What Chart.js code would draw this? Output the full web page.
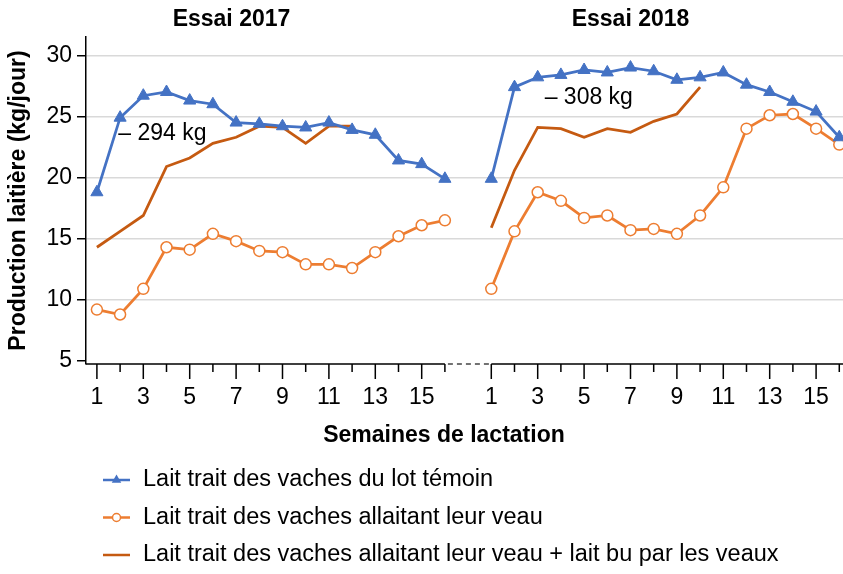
<!DOCTYPE html>
<html lang="fr">
<head>
<meta charset="utf-8">
<title>Production laitière</title>
<script src="https://cdn.jsdelivr.net/npm/chart.js@4.4.1/dist/chart.umd.min.js"></script>
<style>
  html, body { margin: 0; padding: 0; background: #fff; overflow: hidden; }
  #wrap { width: 843px; height: 574px; }
</style>
</head>
<body>
<div id="wrap"><canvas id="myChart" width="843" height="574"></canvas></div>
<script>
// semaines de lactation (same for both trials)
const weeks = [1, 2, 3, 4, 5, 6, 7, 8, 9, 10, 11, 12, 13, 14, 15, 16];
const yTicks = [5, 10, 15, 20, 25, 30];

// kg/jour
const temoin2017 = [18.8, 24.9, 26.7, 27.0, 26.3, 26.0, 24.5, 24.4, 24.2, 24.1, 24.5, 23.9, 23.5, 21.4, 21.1, 19.9];
const temoin2018 = [19.9, 27.4, 28.2, 28.4, 28.8, 28.6, 29.0, 28.7, 28.0, 28.2, 28.6, 27.6, 27.0, 26.2, 25.4, 23.3];
const allaitant2017 = [9.2, 8.8, 10.9, 14.3, 14.1, 15.4, 14.8, 14.0, 13.9, 12.9, 12.9, 12.6, 13.9, 15.2, 16.1, 16.5];
const allaitant2018 = [10.9, 15.6, 18.8, 18.1, 16.7, 16.9, 15.7, 15.8, 15.4, 16.9, 19.2, 24.0, 25.1, 25.2, 24.0, 22.7];
const total2017 = [14.3, 15.6, 16.9, 20.9, 21.6, 22.8, 23.3, 24.2, 24.1, 22.8, 24.2, 24.2];
const total2018 = [15.9, 20.6, 24.1, 24.0, 23.3, 24.0, 23.7, 24.6, 25.2, 27.4];

const panelTitles = ['Essai 2017', 'Essai 2018'];
const gapTexts = ['\u2013 294 kg', '\u2013 308 kg'];

const BLUE = '#4472C4';
const ORANGE = '#ED7D31';
const DARK_ORANGE = '#C55A11';
const GRID = '#d9d9d9';

// 2018 weeks sit after an empty slot on the same x axis
const OFFSET_2018 = 17;

function toPoints(a, b) {
    return a.map((y, i) => ({x: weeks[i], y: y}))
        .concat([{x: OFFSET_2018, y: null}])
        .concat(b.map((y, i) => ({x: weeks[i] + OFFSET_2018, y: y})));
}

Chart.defaults.font.family = "Arial, 'Liberation Sans', sans-serif";
Chart.defaults.color = '#000';

// axis line with dashed break, tick marks, titles, notes and legend
const decor = {
    id: 'decor',
    afterDraw(chart) {
        const {ctx, chartArea} = chart;
        const xs = chart.scales.x;
        const ys = chart.scales.y;
        const yb = chartArea.bottom;
        const xEnd17 = xs.getPixelForValue(weeks[weeks.length - 1]);
        const xStart18 = xs.getPixelForValue(weeks[0] + OFFSET_2018);
        ctx.save();

        ctx.strokeStyle = '#000';
        ctx.lineWidth = 1.5;
        ctx.beginPath();
        ctx.moveTo(chartArea.left, yb);
        ctx.lineTo(xEnd17, yb);
        ctx.moveTo(xStart18, yb);
        ctx.lineTo(chartArea.right, yb);
        ctx.stroke();
        ctx.strokeStyle = '#444';
        ctx.setLineDash([5, 4]);
        ctx.beginPath();
        ctx.moveTo(xEnd17 + 3, yb);
        ctx.lineTo(xStart18 - 2, yb);
        ctx.stroke();
        ctx.setLineDash([]);

        ctx.strokeStyle = '#000';
        ctx.beginPath();
        xs.ticks.forEach(t => {
            const w = t.value > OFFSET_2018 ? t.value - OFFSET_2018 : t.value;
            const px = xs.getPixelForValue(t.value);
            ctx.moveTo(px, yb);
            ctx.lineTo(px, yb + (w % 2 ? 15 : 8));
        });
        ctx.stroke();

        ctx.fillStyle = '#000';
        ctx.textBaseline = 'middle';
        ctx.textAlign = 'center';
        ctx.font = "bold 23px Arial, 'Liberation Sans', sans-serif";
        ctx.fillText(panelTitles[0], xs.getPixelForValue(6.8), 20);
        ctx.fillText(panelTitles[1], xs.getPixelForValue(24), 20);
        ctx.fillText('Semaines de lactation', xs.getPixelForValue(15.96), 436);

        ctx.textAlign = 'left';
        ctx.font = "23px Arial, 'Liberation Sans', sans-serif";
        ctx.fillText(gapTexts[0], xs.getPixelForValue(1.92), ys.getPixelForValue(23.6));
        ctx.fillText(gapTexts[1], xs.getPixelForValue(20.3), ys.getPixelForValue(26.5));

        // legend, one item per row
        ctx.font = "23.5px Arial, 'Liberation Sans', sans-serif";
        chart.data.datasets.forEach((ds, i) => {
            const cy = 480 + i * 37.5;
            const x0 = 103;
            const cx = x0 + 13.5;
            ctx.strokeStyle = ds.borderColor;
            ctx.lineWidth = 2.5;
            ctx.beginPath();
            ctx.moveTo(x0, cy);
            ctx.lineTo(x0 + 27, cy);
            ctx.stroke();
            if (ds.pointStyle === 'triangle') {
                const r = 5.5;
                ctx.fillStyle = ds.pointBackgroundColor;
                ctx.beginPath();
                ctx.moveTo(cx, cy - r);
                ctx.lineTo(cx + r * 0.866, cy + r / 2);
                ctx.lineTo(cx - r * 0.866, cy + r / 2);
                ctx.closePath();
                ctx.fill();
            } else if (ds.pointRadius > 0) {
                ctx.fillStyle = ds.pointBackgroundColor;
                ctx.lineWidth = 1.5;
                ctx.beginPath();
                ctx.arc(cx, cy, 4, 0, Math.PI * 2);
                ctx.fill();
                ctx.stroke();
            }
            ctx.fillStyle = '#000';
            ctx.fillText(ds.label, 143, cy);
        });
        ctx.restore();
    }
};

const data = {
    datasets: [
        {
            label: 'Lait trait des vaches du lot témoin',
            data: toPoints(temoin2017, temoin2018),
            borderColor: BLUE,
            backgroundColor: BLUE,
            pointBackgroundColor: BLUE,
            pointBorderColor: BLUE,
            pointStyle: 'triangle',
            pointRadius: 7,
            pointBorderWidth: 1,
            borderWidth: 2.75,
        },
        {
            label: 'Lait trait des vaches allaitant leur veau',
            data: toPoints(allaitant2017, allaitant2018),
            borderColor: ORANGE,
            backgroundColor: ORANGE,
            pointBackgroundColor: '#fff',
            pointBorderColor: ORANGE,
            pointStyle: 'circle',
            pointRadius: 5.5,
            pointBorderWidth: 1.5,
            borderWidth: 2.75,
        },
        {
            label: 'Lait trait des vaches allaitant leur veau + lait bu par les veaux',
            data: toPoints(total2017, total2018),
            borderColor: DARK_ORANGE,
            backgroundColor: DARK_ORANGE,
            pointRadius: 0,
            borderWidth: 2.75,
        },
    ]
};

const config = {
    type: 'line',
    data: data,
    options: {
        responsive: false,
        animation: false,
        events: [],
        spanGaps: false,
        layout: {
            autoPadding: false,
            padding: {top: 37, right: 0, bottom: 0, left: 0}
        },
        scales: {
            x: {
                type: 'linear',
                min: 0.53,
                max: 33.16,
                afterBuildTicks: s => {
                    s.ticks = weeks.map(w => ({value: w}))
                        .concat(weeks.map(w => ({value: w + OFFSET_2018})));
                },
                afterFit: s => {
                    s.height = 210;
                    s.paddingLeft = 0;
                    s.paddingRight = 0;
                },
                border: {display: false},
                grid: {
                    drawOnChartArea: false,
                    drawTicks: true,
                    tickLength: 15,
                    tickColor: 'rgba(0,0,0,0)',
                },
                ticks: {
                    autoSkip: false,
                    maxRotation: 0,
                    padding: 5,
                    color: '#000',
                    font: {size: 23},
                    callback: v => {
                        const w = v > OFFSET_2018 ? v - OFFSET_2018 : v;
                        return w % 2 ? String(w) : '';
                    }
                },
            },
            y: {
                min: 4.75,
                max: 31.5,
                afterBuildTicks: s => {
                    s.ticks = yTicks.map(v => ({value: v}));
                },
                afterFit: s => {
                    s.width = 86;
                    s.paddingTop = 0;
                    s.paddingBottom = 0;
                },
                border: {color: '#000', width: 1.5},
                grid: {
                    color: c => (c.tick && c.tick.value === yTicks[0]) ? 'rgba(0,0,0,0)' : GRID,
                    lineWidth: 1.5,
                    tickLength: 9,
                    tickColor: '#000',
                    tickWidth: 1.5,
                },
                ticks: {
                    padding: 5,
                    color: '#000',
                    font: {size: 23},
                },
                title: {
                    display: true,
                    text: 'Production laitière (kg/jour)',
                    color: '#000',
                    font: {size: 23, weight: 'bold'},
                    padding: {top: 5, bottom: 0},
                },
            }
        },
        plugins: {
            legend: {display: false},
            tooltip: {enabled: false},
        }
    },
    plugins: [decor]
};

const ctx = document.getElementById('myChart').getContext('2d');
new Chart(ctx, config);
</script>
</body>
</html>
